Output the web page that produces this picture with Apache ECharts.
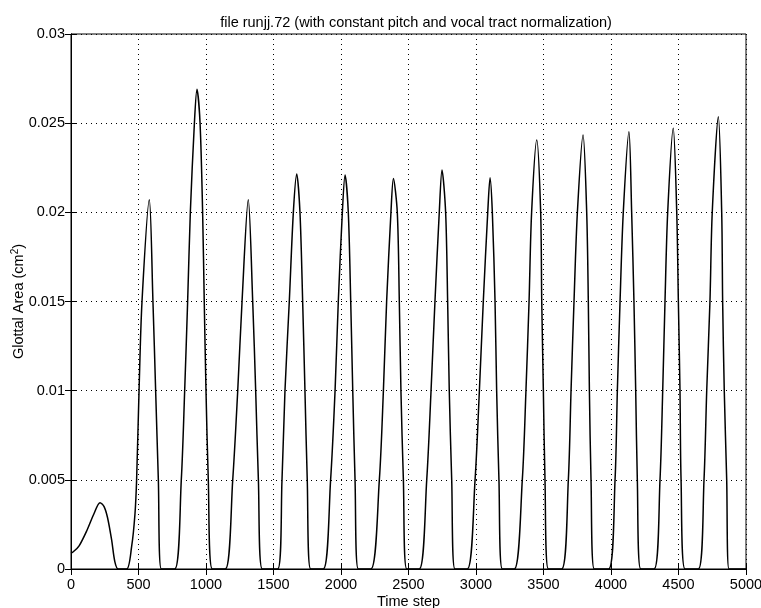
<!DOCTYPE html>
<html>
<head>
<meta charset="utf-8">
<script src="https://cdn.jsdelivr.net/npm/echarts@6/dist/echarts.min.js"></script>
<style>
html,body{margin:0;padding:0;background:#fff;}
#main{width:761px;height:608px;}
</style>
</head>
<body>
<div id="main"></div>
<script>
// glottal area pulses, [time step, area]
var bump0 = [[0,0.00088],[15,0.00095],[60,0.0013],[120,0.0022],[170,0.0031],[215,0.00372],[245,0.0035],[270,0.0029],[301,0.00163],[325,0.0004],[350,0]];
var pulse1 = [[412,0],[449,0.00125],[474,0.0031],[486,0.005],[504,0.01],[526,0.015],[580,0.0207],[607,0.015],[627,0.01],[647,0.005],[669,0]];
var pulse2 = [[768,0],[817,0.005],[842,0.01],[864,0.015],[884,0.02],[914,0.025],[933,0.0269],[956,0.025],[975,0.02],[987,0.015],[1000,0.01],[1017,0.005],[1047,0]];
var pulse3 = [[1143,0],[1198,0.005],[1235,0.01],[1267,0.015],[1313,0.0207],[1346,0.015],[1368,0.01],[1388,0.005],[1417,0]];
var pulse4 = [[1531,0],[1563,0.005],[1585,0.01],[1617,0.015],[1647,0.02],[1672,0.02215],[1696,0.02],[1716,0.015],[1733,0.01],[1750,0.005],[1775,0]];
var pulse5 = [[1869,0],[1923,0.005],[1956,0.01],[1980,0.015],[2010,0.02],[2030,0.0221],[2054,0.02],[2072,0.015],[2087,0.01],[2104,0.005],[2128,0]];
var pulse6 = [[2222,0],[2284,0.005],[2314,0.01],[2338,0.015],[2370,0.02],[2388,0.0219],[2417,0.02],[2432,0.015],[2444,0.01],[2462,0.005],[2487,0]];
var pulse7 = [[2580,0],[2635,0.005],[2667,0.01],[2696,0.015],[2728,0.02],[2748,0.02237],[2775,0.02],[2790,0.015],[2802,0.01],[2820,0.005],[2844,0]];
var pulse8 = [[2936,0],[2993,0.005],[3025,0.01],[3054,0.015],[3087,0.02],[3104,0.02194],[3121,0.02],[3141,0.015],[3153,0.01],[3170,0.005],[3195,0]];
var pulse9 = [[3284,0],[3343,0.005],[3370,0.01],[3393,0.015],[3412,0.02],[3450,0.02406],[3479,0.02],[3487,0.015],[3499,0.01],[3511,0.005],[3536,0]];
var pulse10 = [[3635,0],[3684,0.005],[3704,0.01],[3726,0.015],[3751,0.02],[3793,0.02434],[3820,0.02],[3832,0.015],[3840,0.01],[3852,0.005],[3876,0]];
var pulse11 = [[3983,0],[4030,0.005],[4047,0.01],[4067,0.015],[4091,0.02],[4133,0.02452],[4153,0.02],[4170,0.015],[4183,0.01],[4195,0.005],[4220,0]];
var pulse12 = [[4319,0],[4363,0.005],[4383,0.01],[4400,0.015],[4420,0.02],[4461,0.02471],[4487,0.02],[4499,0.015],[4511,0.01],[4519,0.005],[4548,0]];
var pulse13 = [[4647,0],[4689,0.005],[4709,0.01],[4733,0.015],[4750,0.02],[4795,0.02536],[4820,0.02],[4827,0.015],[4839,0.01],[4857,0.005],[4874,0],[5000,0]];

var yTickLabels = ['0','0.005','0.01','0.015','0.02','0.025','0.03'];

var allData = [].concat(bump0,pulse1,pulse2,pulse3,pulse4,pulse5,pulse6,pulse7,pulse8,pulse9,pulse10,pulse11,pulse12,pulse13);

var myChart = echarts.init(document.getElementById('main'));
var font = 'Liberation Sans, Arial, sans-serif';
var dotted = {show:true, lineStyle:{color:'#000', type:[1,4], width:1}};
var option = {
	animation:false,
	backgroundColor:'#fff',
	title:{
		text:'file runjj.72 (with constant pitch and vocal tract normalization)',
		left:411, top:10, textAlign:'center',
		textStyle:{fontFamily:font, fontSize:14.5, fontWeight:'normal', color:'#000'}
	},
	grid:{left:71, right:15, top:34, bottom:39, outerBoundsMode:'none', containLabel:false,
		show:true, borderColor:'#000', borderWidth:1},
	xAxis:[{
		type:'value', min:0, max:5000, interval:500,
		name:'Time step', nameLocation:'middle', nameGap:25, nameMoveOverlap:false,
		nameTextStyle:{fontFamily:font, fontSize:14.5, color:'#000'},
		axisLine:{lineStyle:{color:'#000'}},
		axisTick:{inside:true, length:6, lineStyle:{color:'#000'}},
		axisLabel:{fontFamily:font, fontSize:14.5, color:'#000', margin:8,
			formatter:function(v){ return String(v); }},
		splitLine:dotted
	},{
		type:'value', min:0, max:5000, interval:500, position:'top',
		axisLine:{lineStyle:{color:'#000'}},
		axisTick:{inside:true, length:6, lineStyle:{color:'#000'}},
		axisLabel:{show:false}, splitLine:{show:false}
	}],
	yAxis:[{
		type:'value', min:0, max:0.03, interval:0.005,
		name:'Glottal Area (cm{sup|2})', nameLocation:'middle', nameGap:43, nameMoveOverlap:false,
		nameTextStyle:{fontFamily:font, fontSize:14.5, color:'#000',
			rich:{sup:{fontFamily:font, fontSize:10, color:'#000', padding:[0,0,8,0]}}},
		axisLine:{lineStyle:{color:'#000'}},
		axisTick:{inside:true, length:6, lineStyle:{color:'#000'}},
		axisLabel:{fontFamily:font, fontSize:14.5, color:'#000', margin:6,
			formatter:function(v, i){ return yTickLabels[i]; }},
		splitLine:dotted
	},{
		type:'value', min:0, max:0.03, interval:0.005, position:'right',
		axisLine:{lineStyle:{color:'#000'}},
		axisTick:{inside:true, length:6, lineStyle:{color:'#000'}},
		axisLabel:{show:false}, splitLine:{show:false}
	}],
	series:[{
		type:'line',
		data:allData,
		showSymbol:false,
		smooth:0.3,
		lineStyle:{color:'#000', width:1.5}
	}]
};
myChart.setOption(option);
</script>
</body>
</html>
